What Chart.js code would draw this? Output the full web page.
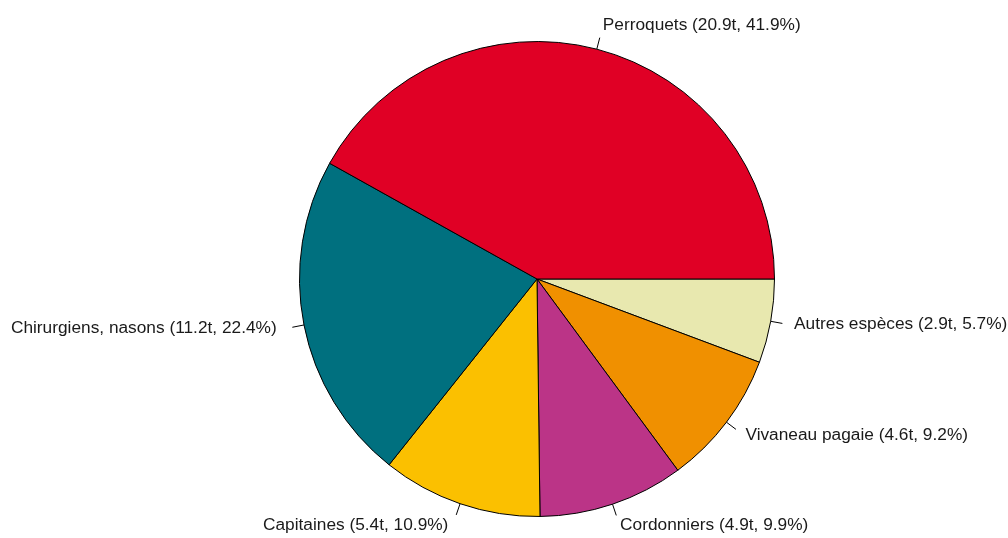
<!DOCTYPE html>
<html>
<head>
<meta charset="utf-8">
<script src="https://cdn.jsdelivr.net/npm/chart.js@4/dist/chart.umd.min.js"></script>
<style>
  html, body { margin: 0; padding: 0; background: #fff; }
  #pie { display: block; }
</style>
</head>
<body>
<canvas id="pie" width="1008" height="538"></canvas>
<script>
// R draws counter-clockwise from 3 o'clock; Chart.js goes clockwise,
// so the order is reversed here
const species = ['Autres espèces', 'Vivaneau pagaie', 'Cordonniers', 'Capitaines', 'Chirurgiens, nasons', 'Perroquets'];
const tonnes = [2.9, 4.6, 4.9, 5.4, 11.2, 20.9];
const percents = [5.7, 9.2, 9.9, 10.9, 22.4, 41.9];
const sliceColors = ['#E8E8AF', '#F09000', '#BB3487', '#FBC000', '#00707F', '#E00025'];

const outsideLabels = {
  id: 'outsideLabels',
  afterDatasetsDraw(chart) {
    const ctx = chart.ctx;
    const meta = chart.getDatasetMeta(0);
    ctx.save();
    ctx.font = '17.3px "Liberation Sans", Arial, sans-serif';
    ctx.fillStyle = '#1a1a1a';
    ctx.strokeStyle = '#000';
    ctx.lineWidth = 1;
    ctx.textBaseline = 'middle';
    meta.data.forEach((arc, i) => {
      const mid = (arc.startAngle + arc.endAngle) / 2;
      const r = arc.outerRadius;
      const c = Math.cos(mid), s = Math.sin(mid);
      ctx.beginPath();
      ctx.moveTo(arc.x + r * c, arc.y + r * s);
      ctx.lineTo(arc.x + 1.05 * r * c, arc.y + 1.05 * r * s);
      ctx.stroke();
      ctx.textAlign = c < 0 ? 'right' : 'left';
      const txt = species[i] + ' (' + tonnes[i].toFixed(1) + 't, ' + percents[i].toFixed(1) + '%)';
      // R leaves a little more room on the left-hand labels
      const pad = c < 0 ? -4 : 0;
      ctx.fillText(txt, arc.x + 1.1 * r * c + pad, arc.y + 1.1 * r * s - 1);
    });
    ctx.restore();
  }
};

new Chart(document.getElementById('pie'), {
  type: 'pie',
  data: {
    labels: species,
    datasets: [{
      data: percents,
      backgroundColor: sliceColors,
      borderColor: '#000',
      borderWidth: 1,
      borderAlign: 'center'
    }]
  },
  options: {
    responsive: false,
    animation: false,
    rotation: 90,
    layout: { padding: { left: 299, right: 233, top: 41, bottom: 21 } },
    plugins: {
      legend: { display: false },
      tooltip: { enabled: false }
    }
  },
  plugins: [outsideLabels]
});
</script>
</body>
</html>
